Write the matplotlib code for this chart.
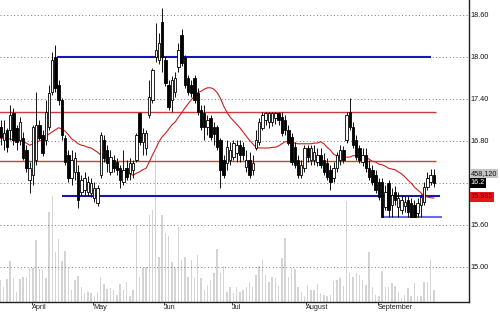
import matplotlib

matplotlib.use("Agg")

import matplotlib.pyplot as plt
import matplotlib.transforms as mtransforms
import numpy as np

plt.rcParams["font.family"] = ["Liberation Sans", "DejaVu Sans"]

# daily candles (Mar -> Sep)
opens = [17.00, 16.81, 16.96, 16.96, 17.20, 16.99, 16.81, 16.84, 16.67, 16.24,
         16.31, 16.53, 17.03, 16.89, 16.81, 17.00, 17.50, 18.00, 17.60, 17.39,
         16.84, 16.60, 16.27, 16.36, 16.36, 16.07, 16.10, 16.07, 16.06, 15.99,
         15.91, 16.31, 16.81, 16.67, 16.36, 16.53, 16.50, 16.41, 16.21, 16.41,
         16.34, 16.39, 16.53, 17.20, 16.79, 16.70, 17.17, 17.39, 18.00, 17.96,
         18.50, 17.96, 17.60, 17.39, 17.50, 17.86, 18.31, 18.00, 17.70, 17.60,
         17.70, 17.49, 17.24, 17.20, 17.00, 17.13, 17.00, 17.00, 16.81, 16.53,
         16.49, 16.53, 16.57, 16.63, 16.74, 16.71, 16.43, 16.53, 16.39, 16.70,
         16.79, 16.99, 17.10, 17.07, 17.07, 17.13, 17.20, 17.14, 17.10, 16.96,
         16.86, 16.71, 16.53, 16.31, 16.41, 16.70, 16.53, 16.53, 16.50, 16.60,
         16.53, 16.49, 16.39, 16.27, 16.41, 16.53, 16.67, 16.81, 17.21, 17.00,
         16.81, 16.70, 16.50, 16.60, 16.41, 16.39, 16.31, 16.21, 16.21, 15.86,
         16.20, 15.89, 16.07, 15.86, 15.81, 15.87, 15.96, 15.91, 15.89, 15.77,
         15.89, 15.93, 16.14, 16.21, 16.31]
highs = [17.10, 17.10, 16.99, 17.31, 17.27, 17.03, 17.14, 16.93, 16.74, 16.50,
         17.03, 17.50, 17.10, 16.96, 17.39, 17.60, 18.07, 18.17, 17.67, 17.41,
         16.89, 16.67, 16.67, 16.64, 16.46, 16.31, 16.36, 16.30, 16.27, 16.21,
         16.17, 16.93, 16.89, 16.74, 16.67, 16.60, 16.56, 16.46, 16.67, 16.53,
         16.56, 16.53, 16.91, 17.21, 16.99, 16.96, 17.67, 17.84, 18.49, 18.34,
         18.70, 18.00, 17.67, 17.73, 17.79, 18.20, 18.40, 18.03, 17.74, 17.67,
         17.74, 17.56, 17.31, 17.31, 17.17, 17.17, 17.07, 17.03, 16.84, 16.60,
         16.81, 16.79, 16.81, 16.81, 16.81, 16.79, 16.67, 16.64, 16.60, 16.96,
         17.13, 17.21, 17.21, 17.21, 17.21, 17.21, 17.21, 17.21, 17.17, 17.03,
         16.91, 16.79, 16.60, 16.53, 16.74, 16.74, 16.74, 16.74, 16.70, 16.70,
         16.63, 16.56, 16.46, 16.50, 16.64, 16.74, 16.73, 17.21, 17.41, 17.07,
         16.89, 16.74, 16.70, 16.70, 16.53, 16.46, 16.39, 16.27, 16.27, 16.17,
         16.24, 16.13, 16.16, 16.07, 16.03, 16.01, 16.01, 15.99, 15.96, 15.99,
         16.04, 16.21, 16.36, 16.40, 16.40]
lows = [16.74, 16.67, 16.64, 16.81, 16.74, 16.67, 16.74, 16.53, 16.36, 16.06,
        16.17, 16.46, 16.81, 16.59, 16.74, 16.96, 17.46, 17.50, 17.31, 16.81,
        16.46, 16.21, 16.17, 16.24, 15.84, 16.01, 16.03, 16.01, 16.00, 15.93,
        15.87, 16.27, 16.50, 16.36, 16.31, 16.36, 16.31, 16.13, 16.17, 16.24,
        16.24, 16.27, 16.50, 16.74, 16.60, 16.60, 17.13, 17.34, 17.93, 17.90,
        17.79, 17.59, 17.24, 17.21, 17.43, 17.79, 17.87, 17.56, 17.46, 17.43,
        17.34, 17.17, 16.96, 16.81, 16.89, 16.81, 16.74, 16.67, 16.13, 16.27,
        16.39, 16.46, 16.53, 16.50, 16.50, 16.53, 16.36, 16.27, 16.31, 16.67,
        16.74, 16.96, 17.03, 16.99, 17.01, 17.04, 17.03, 16.87, 16.89, 16.74,
        16.46, 16.41, 16.27, 16.27, 16.36, 16.50, 16.46, 16.46, 16.44, 16.41,
        16.31, 16.24, 16.10, 16.21, 16.36, 16.46, 16.49, 16.77, 16.96, 16.70,
        16.53, 16.49, 16.44, 16.36, 16.24, 16.17, 16.06, 15.96, 15.71, 15.81,
        15.71, 15.71, 15.89, 15.71, 15.76, 15.79, 15.71, 15.71, 15.71, 15.71,
        15.71, 15.89, 16.10, 16.17, 16.14]
closes = [16.86, 16.91, 16.71, 17.17, 16.81, 16.79, 17.07, 16.56, 16.41, 16.41,
          17.00, 17.03, 16.84, 16.63, 17.21, 17.49, 17.96, 17.56, 17.39, 16.89,
          16.50, 16.27, 16.53, 16.56, 15.96, 16.24, 16.27, 16.21, 16.20, 16.13,
          16.13, 16.89, 16.56, 16.49, 16.57, 16.41, 16.39, 16.24, 16.39, 16.29,
          16.49, 16.49, 16.89, 16.79, 16.91, 16.91, 17.43, 17.81, 18.10, 18.20,
          18.00, 17.63, 17.29, 17.67, 17.70, 18.10, 17.91, 17.60, 17.50, 17.49,
          17.39, 17.21, 17.00, 17.00, 17.10, 16.86, 16.90, 16.71, 16.39, 16.31,
          16.71, 16.67, 16.77, 16.74, 16.60, 16.60, 16.53, 16.31, 16.49, 16.81,
          17.07, 17.17, 17.20, 17.20, 17.20, 17.20, 17.10, 16.91, 16.96, 16.77,
          16.50, 16.46, 16.31, 16.46, 16.70, 16.57, 16.70, 16.64, 16.60, 16.46,
          16.36, 16.29, 16.21, 16.41, 16.60, 16.67, 16.53, 17.17, 17.00, 16.74,
          16.57, 16.53, 16.60, 16.41, 16.29, 16.21, 16.10, 16.00, 15.71, 16.07,
          15.81, 16.03, 15.96, 15.99, 15.96, 15.93, 15.79, 15.71, 15.71, 15.91,
          16.00, 16.14, 16.27, 16.31, 16.20]
ma20 = [16.84, 16.84, 16.83, 16.83, 16.81, 16.81, 16.80, 16.79, 16.77, 16.74,
        16.76, 16.79, 16.80, 16.81, 16.86, 16.90, 16.93, 16.96, 16.99, 16.97,
        16.94, 16.89, 16.83, 16.80, 16.76, 16.74, 16.73, 16.71, 16.70, 16.67,
        16.64, 16.60, 16.56, 16.49, 16.47, 16.46, 16.41, 16.39, 16.36, 16.34,
        16.33, 16.31, 16.34, 16.36, 16.39, 16.41, 16.50, 16.60, 16.69, 16.79,
        16.86, 16.91, 16.97, 17.03, 17.07, 17.14, 17.20, 17.27, 17.33, 17.39,
        17.44, 17.49, 17.51, 17.54, 17.56, 17.56, 17.54, 17.49, 17.41, 17.30,
        17.21, 17.14, 17.09, 17.04, 16.99, 16.93, 16.87, 16.81, 16.76, 16.71,
        16.70, 16.70, 16.70, 16.70, 16.71, 16.71, 16.73, 16.76, 16.79, 16.79,
        16.79, 16.77, 16.76, 16.76, 16.76, 16.76, 16.76, 16.77, 16.77, 16.79,
        16.76, 16.71, 16.67, 16.61, 16.59, 16.57, 16.57, 16.57, 16.57, 16.59,
        16.59, 16.60, 16.59, 16.57, 16.54, 16.51, 16.50, 16.47, 16.46, 16.44,
        16.41, 16.40, 16.39, 16.36, 16.33, 16.29, 16.24, 16.20, 16.14, 16.10,
        16.06, 16.01, 16.00, 15.99, 15.985]
volume_k = [840, 573, 879, 1566, 917, 382, 879, 955, 955, 1299,
            1299, 2368, 1261, 1222, 917, 3438, 4049, 1910, 2407, 1566,
            1948, 1337, 458, 840, 993, 573, 344, 382, 344, 229,
            382, 955, 688, 497, 535, 458, 267, 688, 458, 764,
            229, 458, 2941, 955, 1299, 1337, 3323, 3514, 5615, 1719,
            3323, 2636, 2521, 1528, 1299, 2865, 1604, 1719, 955, 1604,
            917, 1795, 917, 458, 649, 840, 1108, 2025, 1108, 1375,
            382, 573, 344, 573, 382, 458, 573,
            764, 573, 1031, 1375, 1604, 1031, 764, 955, 917, 611,
            1681, 2445, 955, 1299, 1261, 573, 382, 229, 649, 458,
            458, 688, 344, 267, 229, 267, 802, 840, 917, 611,
            3858, 1108, 955, 1108, 1031, 840, 649, 1910, 573, 267,
            229, 1184, 573, 573, 726, 611, 382, 153, 267, 535,
            229, 726, 229, 229, 764, 764, 1604, 458]

month_labels = ["April", "May", "Jun", "Jul", "August", "September"]
month_start_bar = [10, 29, 51, 72, 95, 117]

price_ticks = [15.00, 15.60, 16.20, 16.80, 17.40, 18.00, 18.60]
price_tick_labels = ["15.00", "15.60", "", "16.80", "17.40", "18.00", "18.60"]

# drawn levels: (price, first bar, last bar)
resistance_blue = (18.00, 17.5, 133.0)
support_blue = (16.02, 19.0, 136.0)
support_low = (15.72, 118.0, 136.5)
red_levels = [17.21, 16.51]
red_span = (-1.0, 134.7)

last_volume_label = "458,120"
last_close_label = "16.2"
last_ma_label = "15.985"


def main() -> None:
    n = len(closes)
    x = np.arange(n)
    o = np.array(opens)
    c = np.array(closes)
    up = c >= o

    fig = plt.figure(figsize=(5, 3.12), dpi=100)
    rect = [0.0, 10 / 312, 469 / 500, 302 / 312]

    # volume sits behind the price panel
    ax_vol = fig.add_axes(rect)
    ax_vol.bar(x, volume_k, width=0.45, color="#d4d4d4", linewidth=0)
    ax_vol.set_ylim(0, 11536)
    ax_vol.set_xlim(-0.155, 144.87)
    ax_vol.axis("off")

    ax = fig.add_axes(rect)
    ax.patch.set_visible(False)
    ax.set_xlim(-0.155, 144.87)
    ax.set_ylim(14.50, 18.814)

    for side in ("left", "top"):
        ax.spines[side].set_visible(False)
    for side in ("right", "bottom"):
        ax.spines[side].set_color("#222222")
        ax.spines[side].set_linewidth(1.0)

    ax.set_yticks(price_ticks)
    ax.set_yticklabels(price_tick_labels)
    ax.yaxis.tick_right()
    ax.tick_params(axis="y", length=0, pad=1.2, labelsize=5.2, labelcolor="#111111")
    ax.grid(axis="y", linestyle=(0, (1, 2.5)), color="#777777", linewidth=0.7)
    ax.set_axisbelow(True)

    ax.set_xticks([m - 0.4 for m in month_start_bar])
    ax.set_xticklabels(month_labels, ha="left")
    ax.tick_params(axis="x", length=2.2, width=0.6, pad=-0.5, labelsize=5.2,
                   color="#222222", labelcolor="#222222")

    # level lines
    for level in red_levels:
        ax.hlines(level, red_span[0], red_span[1], color="#d23a3a", linewidth=1.0, zorder=2)
    ax.hlines(resistance_blue[0], resistance_blue[1], resistance_blue[2],
              color="#1818b0", linewidth=1.5, zorder=2)
    ax.hlines(support_blue[0], support_blue[1], support_blue[2],
              color="#1818b0", linewidth=1.5, zorder=2)
    ax.hlines(support_low[0], support_low[1], support_low[2],
              color="#6b6be6", linewidth=1.5, zorder=2)

    ax.plot(x, ma20, color="#cc2020", linewidth=0.8, zorder=3)

    # candles
    ax.vlines(x, lows, highs, color="black", linewidth=0.65, zorder=4)
    body_low = np.minimum(o, c)
    body_h = np.maximum(np.abs(c - o), 0.008)
    ax.bar(x[up], body_h[up], bottom=body_low[up], width=0.75,
           facecolor="white", edgecolor="black", linewidth=0.6, zorder=5)
    ax.bar(x[~up], body_h[~up], bottom=body_low[~up], width=0.75,
           facecolor="black", edgecolor="black", linewidth=0.6, zorder=5)

    # value boxes on the right edge
    tr = mtransforms.blended_transform_factory(ax.transAxes, ax.transData)
    ax.text(1.004, 16.34, last_volume_label, transform=tr, fontsize=5.2, color="#111111",
            va="center", ha="left", clip_on=False,
            bbox=dict(boxstyle="square,pad=0.12", facecolor="#c4c4c4", edgecolor="none"))
    ax.text(1.004, 16.20, last_close_label, transform=tr, fontsize=5.2, color="white",
            va="center", ha="left", clip_on=False,
            bbox=dict(boxstyle="square,pad=0.15", facecolor="black", edgecolor="none"))
    ax.text(1.004, 16.00, last_ma_label, transform=tr, fontsize=5.2, color="#700000",
            va="center", ha="left", clip_on=False,
            bbox=dict(boxstyle="square,pad=0.15", facecolor="#e8141c", edgecolor="none"))

    fig.savefig("out.png", dpi=100)
    plt.close(fig)


if __name__ == "__main__":
    main()
